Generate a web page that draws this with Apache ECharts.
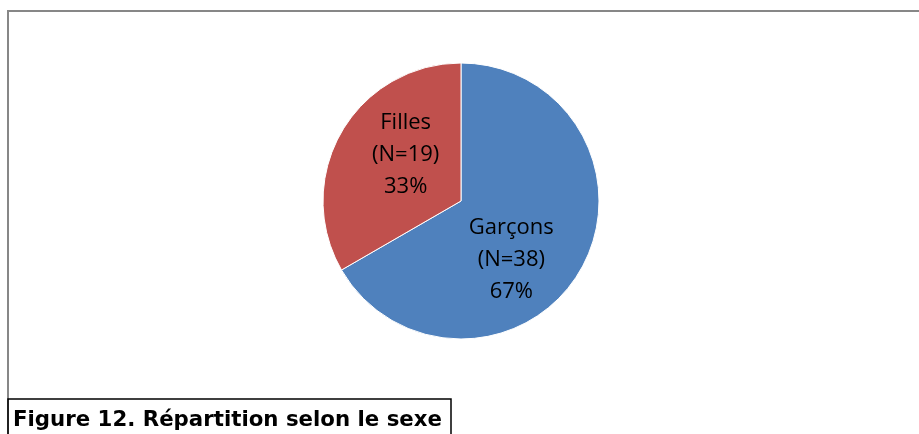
<!DOCTYPE html>
<html>
<head>
<meta charset="utf-8">
<script src="https://cdn.jsdelivr.net/npm/echarts@6/dist/echarts.min.js"></script>
<style>
  html, body { margin: 0; padding: 0; background: #fff; }
  #main { width: 919px; height: 434px; }
</style>
</head>
<body>
<div id="main"></div>
<script>
// données du graphique
var categories = ["Garçons", "Filles"];
var effectifs = [38, 19];
var couleurs = ["#4F81BD", "#C0504D"];
var titre = "Figure 12. Répartition selon le sexe";

// petit décalage des étiquettes (position comme dans Excel)
var decalages = [[-12, 23], [7, -10]];

var myChart = echarts.init(document.getElementById("main"));

var data = categories.map(function (nom, i) {
  return {
    name: nom,
    value: effectifs[i],
    itemStyle: { color: couleurs[i] },
    label: { offset: decalages[i] }
  };
});

var option = {
  backgroundColor: "#fff",
  animation: false,
  title: {
    text: titre,
    left: 8,
    top: 399,
    padding: [11, 9, 12, 5],
    borderColor: "#000",
    borderWidth: 1.5,
    textStyle: {
      fontFamily: "DejaVu Sans",
      fontWeight: "bold",
      fontSize: 21.3,
      color: "#000"
    }
  },
  graphic: [
    {
      type: "rect",
      shape: { x: 8, y: 11, width: 930, height: 440 },
      style: { fill: null, stroke: "#878787", lineWidth: 2 },
      z: -1
    }
  ],
  series: [
    {
      type: "pie",
      center: [461, 201],
      radius: 138,
      startAngle: 90,
      clockwise: true,
      itemStyle: { borderColor: "#fff", borderWidth: 1 },
      label: {
        show: true,
        position: "inside",
        fontFamily: "Open Sans",
        fontSize: 22,
        lineHeight: 32,
        color: "#000",
        formatter: function (p) {
          return p.name + "\n(N=" + p.value + ")\n" + Math.round(p.percent) + "%";
        }
      },
      labelLine: { show: false },
      data: data
    }
  ]
};

option && myChart.setOption(option);
</script>
</body>
</html>
